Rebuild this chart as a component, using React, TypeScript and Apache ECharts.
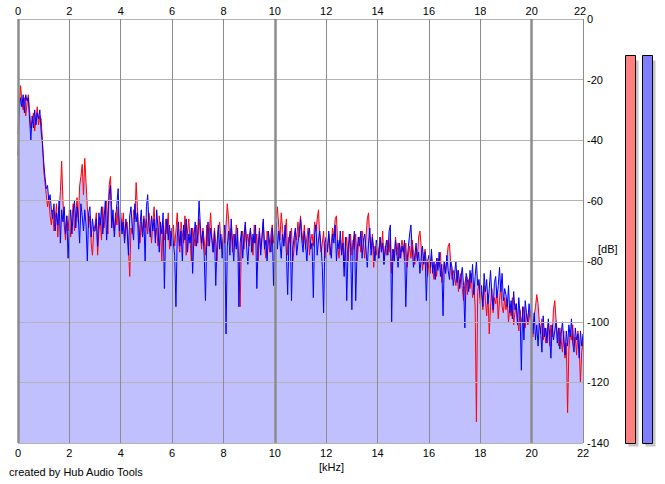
import React, { useEffect, useRef } from "react";
import * as echarts from "echarts";

// FFT bin spacing in kHz (frequency of bin i = i * BIN_KHZ)
const BIN_KHZ = 0.05;

const freqTicks = [0, 2, 4, 6, 8, 10, 12, 14, 16, 18, 20, 22];
const dbTicks = [0, -20, -40, -60, -80, -100, -120, -140];
const majorLinesKHz = [0, 10, 20];
const meterChannels = ["L", "R"];
const meterLevels = [-12, -12];

// Blue channel spectrum, dB, one row per kHz (20 bins each)
const blueDb = [
  -45, -30, -26, -29, -25, -31, -25, -27, -26, -33, -40, -32, -36, -30, -35, -31, -33, -30, -37, -41,
  -47, -52, -56, -55, -60, -58, -63, -66, -61, -70, -64, -68, -60, -74, -63, -67, -62, -71, -65, -79,
  -68, -63, -71, -64, -60, -69, -62, -66, -74, -61, -65, -70, -63, -68, -80, -64, -62, -72, -66, -70,
  -70, -66, -75, -64, -68, -62, -71, -66, -60, -73, -65, -58, -55, -69, -63, -72, -66, -61, -56, -70,
  -64, -71, -67, -74, -66, -70, -78, -65, -62, -69, -73, -61, -67, -64, -76, -68, -63, -72, -66, -80,
  -62, -58, -68, -72, -65, -70, -66, -74, -63, -69, -77, -67, -71, -64, -89, -70, -66, -73, -68, -75,
  -69, -74, -78, -95, -72, -67, -75, -70, -80, -68, -73, -66, -77, -71, -74, -69, -84, -72, -67, -75,
  -71, -60, -68, -74, -70, -78, -93, -72, -67, -75, -69, -73, -77, -70, -88, -74, -68, -76, -71, -79,
  -72, -68, -104, -75, -70, -78, -66, -73, -80, -71, -76, -69, -95, -74, -70, -79, -72, -67, -75, -81,
  -73, -69, -77, -71, -74, -68, -89, -75, -70, -78, -72, -66, -76, -73, -80, -70, -74, -77, -69, -88,
  -72, -67, -76, -70, -74, -79, -71, -75, -68, -77, -91, -73, -70, -93, -76, -72, -69, -78, -74, -71,
  -66, -73, -77, -70, -75, -80, -72, -69, -76, -74, -92, -71, -68, -78, -73, -70, -75, -82, -97, -74,
  -72, -77, -70, -75, -79, -71, -74, -68, -80, -73, -76, -70, -78, -74, -85, -72, -93, -77, -71, -75,
  -96, -74, -70, -93, -77, -72, -75, -70, -79, -73, -71, -76, -82, -74, -69, -78, -72, -76, -80, -73,
  -75, -79, -72, -77, -74, -81, -76, -73, -78, -70, -68, -100, -76, -80, -73, -77, -82, -74, -79, -75,
  -77, -73, -95, -80, -75, -71, -68, -76, -82, -78, -74, -80, -77, -84, -79, -75, -81, -77, -93, -80,
  -78, -82, -76, -84, -80, -86, -79, -83, -77, -85, -81, -98, -80, -84, -78, -83, -86, -80, -82, -88,
  -84, -80, -87, -83, -89, -85, -82, -88, -102, -84, -86, -90, -83, -87, -81, -91, -85, -80, -88, -86,
  -92, -88, -95, -84, -90, -86, -94, -89, -83, -91, -96, -87, -85, -92, -88, -82, -90, -84, -93, -89,
  -91, -95, -88, -97, -93, -99, -90, -96, -94, -101, -92, -98, -116, -95, -106, -93, -97, -100, -94, -98,
  -99, -104, -97, -106, -101, -108, -100, -103, -110, -98, -105, -102, -107, -99, -104, -112, -101, -106, -103, -100,
  -107, -102, -109, -104, -100, -106, -111, -103, -108, -101, -105, -99, -107, -110, -102, -106, -104, -112, -103, -108,
  -104,
];

// Red channel spectrum, dB, one row per kHz (20 bins each)
const redDb = [
  -38, -28, -22, -27, -30, -26, -32, -28, -25, -30, -36, -34, -31, -37, -33, -29, -35, -32, -33, -40,
  -50, -54, -58, -62, -59, -65, -68, -63, -70, -66, -61, -72, -64, -57, -47, -60, -68, -73, -65, -70,
  -63, -72, -66, -61, -70, -64, -59, -67, -55, -52, -48, -58, -46, -54, -62, -69, -65, -74, -78, -70,
  -68, -64, -78, -70, -66, -73, -62, -69, -65, -60, -71, -55, -52, -63, -67, -70, -64, -68, -62, -72,
  -66, -70, -64, -73, -68, -67, -75, -85, -69, -71, -63, -66, -54, -62, -70, -74, -67, -72, -65, -69,
  -66, -71, -64, -68, -74, -67, -62, -72, -69, -75, -65, -70, -80, -68, -73, -66, -71, -64, -76, -70,
  -72, -68, -75, -70, -64, -73, -77, -67, -71, -74, -65, -78, -70, -66, -73, -80, -69, -72, -75, -68,
  -74, -66, -71, -76, -69, -73, -78, -68, -75, -70, -64, -72, -77, -69, -74, -80, -70, -67, -73, -76,
  -70, -74, -68, -61, -66, -73, -69, -77, -71, -75, -68, -72, -79, -95, -73, -70, -76, -68, -74, -71,
  -75, -70, -73, -78, -68, -74, -71, -80, -69, -76, -72, -67, -75, -79, -70, -73, -77, -71, -68, -74,
  -70, -65, -62, -68, -73, -64, -69, -75, -71, -66, -78, -72, -74, -69, -80, -76, -70, -73, -67, -72,
  -65, -70, -74, -68, -76, -72, -69, -78, -73, -71, -75, -67, -70, -66, -63, -72, -77, -74, -70, -79,
  -73, -76, -71, -78, -74, -69, -72, -66, -65, -75, -79, -73, -77, -70, -82, -76, -72, -80, -74, -71,
  -78, -73, -76, -71, -80, -75, -72, -77, -70, -74, -79, -72, -66, -64, -73, -76, -71, -82, -75, -78,
  -74, -79, -72, -76, -70, -81, -75, -78, -73, -77, -71, -84, -76, -80, -72, -78, -74, -79, -76, -73,
  -76, -80, -74, -82, -78, -75, -79, -73, -77, -81, -76, -79, -72, -70, -75, -83, -78, -76, -80, -85,
  -80, -84, -78, -83, -86, -81, -85, -79, -82, -77, -87, -83, -80, -84, -79, -75, -74, -81, -86, -83,
  -85, -88, -83, -90, -86, -84, -89, -93, -87, -85, -91, -86, -89, -84, -92, -88, -95, -133, -90, -87,
  -94, -90, -96, -88, -93, -98, -91, -104, -95, -89, -97, -92, -94, -90, -99, -93, -88, -95, -97, -92,
  -96, -93, -100, -95, -98, -92, -101, -97, -94, -99, -103, -96, -100, -98, -95, -102, -97, -101, -99, -96,
  -101, -105, -98, -95, -91, -94, -100, -104, -99, -106, -102, -107, -103, -100, -108, -101, -105, -96, -93, -99,
  -104, -108, -102, -106, -110, -103, -112, -107, -130, -109, -104, -106, -101, -108, -105, -111, -103, -107, -120, -110,
  -106,
];

const FONT = "'Liberation Sans', Arial, sans-serif";

export default function App() {
  const ref = useRef<HTMLDivElement>(null);

  useEffect(() => {
    if (!ref.current) return;
    const chart = echarts.init(ref.current, undefined, { renderer: "svg" });
    const toPairs = (arr: number[]) => arr.map((v, i) => [Number((i * BIN_KHZ).toFixed(2)), v]);
    const bluePairs = toPairs(blueDb);
    const redPairs = toPairs(redDb);
    const meterColors = ["#ff8080", "#8080ff"];
    const lastTick = freqTicks[freqTicks.length - 1];

    const axisLabelBase = { color: "#000", fontSize: 11, fontFamily: FONT };

    chart.setOption({
      animation: false,
      backgroundColor: "#fff",
      grid: [
        { left: 18, top: 19, width: 565, height: 424 },
        { left: 621, top: 19, width: 34, height: 424 },
      ],
      xAxis: [
        {
          type: "value", gridIndex: 0, position: "bottom", min: 0, max: 22, interval: 2, z: 3,
          axisLine: { show: false }, axisTick: { show: false },
          axisLabel: { ...axisLabelBase, margin: 4 },
          splitLine: { show: true, lineStyle: { color: "#8c8c8c", width: 1 } },
        },
        {
          type: "value", gridIndex: 0, position: "top", min: 0, max: 22, interval: 2, z: 3,
          axisLine: { show: false }, axisTick: { show: false },
          axisLabel: {
            ...axisLabelBase, margin: 3,
            formatter: (v: number) => (v === lastTick ? `{e|${v}}` : `${v}`),
            rich: { e: { ...axisLabelBase, padding: [0, 6, 0, 0] } },
          },
          splitLine: { show: false },
        },
        {
          type: "category", gridIndex: 1, data: meterChannels, show: false,
        },
      ],
      yAxis: [
        {
          type: "value", gridIndex: 0, position: "right", min: dbTicks[dbTicks.length - 1], max: dbTicks[0], interval: 20, z: 3,
          axisLine: { show: false }, axisTick: { show: false },
          axisLabel: { ...axisLabelBase, margin: 4, padding: [3, 0, 0, 0] },
          splitLine: { show: true, lineStyle: { color: "#b4b4b4", width: 1 } },
        },
        { type: "value", gridIndex: 1, min: -140, max: 0, show: false },
      ],
      series: [
        {
          type: "line", xAxisIndex: 0, yAxisIndex: 0, data: redPairs, showSymbol: false, z: 1,
          lineStyle: { width: 0, opacity: 0 }, areaStyle: { color: "#c0c0ff", opacity: 1, origin: "start" },
          silent: true,
        },
        {
          type: "line", xAxisIndex: 0, yAxisIndex: 0, data: bluePairs, showSymbol: false, z: 1,
          lineStyle: { width: 0, opacity: 0 }, areaStyle: { color: "#c0c0ff", opacity: 1, origin: "start" },
          silent: true,
        },
        {
          type: "line", xAxisIndex: 0, yAxisIndex: 0, data: redPairs, showSymbol: false, z: 2,
          lineStyle: { width: 1, color: "#ff0000" }, silent: true,
        },
        {
          type: "line", xAxisIndex: 0, yAxisIndex: 0, data: bluePairs, showSymbol: false, z: 2,
          lineStyle: { width: 1, color: "#0000ff" }, silent: true,
        },
        {
          type: "line", xAxisIndex: 0, yAxisIndex: 0, data: [], z: 4, silent: true,
          markLine: {
            silent: true, symbol: "none", label: { show: false },
            lineStyle: { color: "#8c8c8c", width: 2.5, type: "solid" },
            data: majorLinesKHz.map((v) => ({ xAxis: v })),
          },
        },
        {
          type: "custom", xAxisIndex: 2, yAxisIndex: 1, silent: true,
          data: meterLevels.map((v, i) => [i, v]),
          renderItem: (params: any, api: any) => {
            const i = api.value(0);
            const lv = api.value(1);
            const top = api.coord([i, lv]);
            const bot = api.coord([i, -140]);
            const w = 10;
            const x = Math.round(top[0] - w / 2) + 0.5;
            const y = Math.round(top[1]) + 0.5;
            const h = Math.round(bot[1]) - Math.round(top[1]);
            return {
              type: "group",
              children: [
                { type: "rect", shape: { x: x + 3, y: y + 5, width: w, height: h - 2 }, style: { fill: "#c4c4c4" } },
                { type: "rect", shape: { x, y, width: w, height: h }, style: { fill: meterColors[i], stroke: "#000", lineWidth: 1 } },
              ],
            };
          },
        },
      ],
      graphic: [
        { type: "text", left: 9, top: 466, style: { text: "created by Hub Audio Tools", fill: "#000", font: `11px ${FONT}` } },
        { type: "text", left: 319, top: 461, style: { text: "[kHz]", fill: "#000", font: `11px ${FONT}` } },
        { type: "text", left: 598, top: 243, style: { text: "[dB]", fill: "#000", font: `11px ${FONT}` } },
      ],
    });
    return () => chart.dispose();
  }, []);

  return (
    <div
      ref={ref}
      style={{ position: "absolute", left: 0, top: 0, width: 665, height: 484, background: "#fff" }}
    />
  );
}
